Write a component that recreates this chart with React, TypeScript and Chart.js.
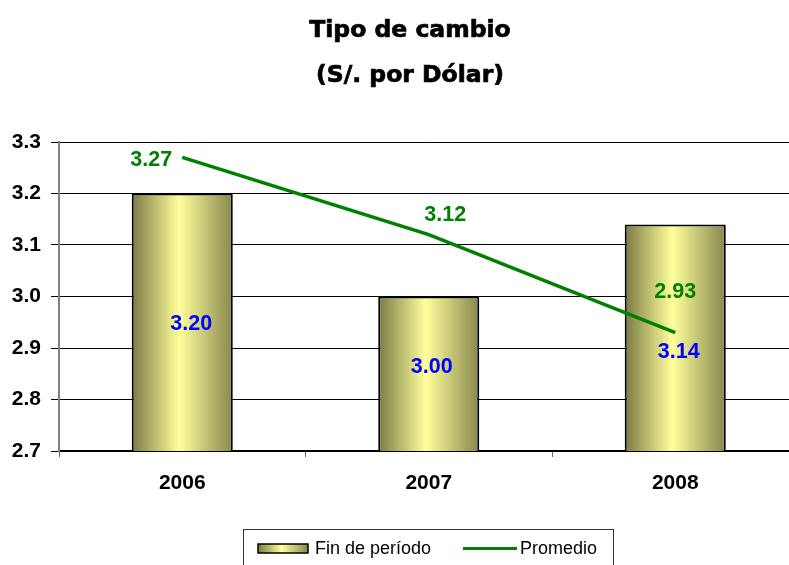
import React, { useEffect, useRef } from "react";
import { Chart, registerables } from "chart.js";

Chart.register(...registerables);

const categories = ["2006", "2007", "2008"];
const finPeriodo = [3.2, 3.0, 3.14];
const promedio = [3.27, 3.12, 2.93];
const yTicks = [2.7, 2.8, 2.9, 3.0, 3.1, 3.2, 3.3];
const titleLines = ["Tipo de cambio", "(S/. por Dólar)"];
const legendLabels = ["Fin de período", "Promedio"];

// label placement offsets (px), kept separate from data
const lineLabelOffsets = [[-31, 3], [16.5, -20], [0, -40]];
const barLabelOffsets = [[9, 2], [3, -6.5], [3.5, 14]];

const CANVAS_W = 820;
const CANVAS_H = 565;
const BAR_PCT = 0.41;

function barGradient(ctx: CanvasRenderingContext2D, x0: number, x1: number) {
  const g = ctx.createLinearGradient(x0, 0, x1, 0);
  g.addColorStop(0, "#7a7a45");
  g.addColorStop(0.47, "#ffff9c");
  g.addColorStop(1, "#87874f");
  return g;
}

const titlePlugin = {
  id: "customTitle",
  afterDraw(chart: any) {
    const ctx = chart.ctx;
    ctx.save();
    ctx.fillStyle = "#000";
    ctx.strokeStyle = "#000";
    ctx.lineWidth = 0.7;
    ctx.font = "bold 23.5px 'DejaVu Sans'";
    ctx.textAlign = "center";
    ctx.textBaseline = "middle";
    [31, 76].forEach((y, i) => {
      ctx.fillText(titleLines[i], 410, y);
      ctx.strokeText(titleLines[i], 410, y);
    });
    ctx.restore();
  },
};

const labelsPlugin = {
  id: "valueLabels",
  afterDraw(chart: any) {
    const ctx = chart.ctx;
    const xs = chart.scales.x;
    const ys = chart.scales.y;
    ctx.save();
    ctx.font = "bold 21.5px 'Liberation Sans'";
    ctx.textAlign = "center";
    ctx.textBaseline = "middle";
    finPeriodo.forEach((v, i) => {
      const cx = xs.getPixelForValue(i);
      const top = ys.getPixelForValue(v);
      const mid = (top + chart.chartArea.bottom) / 2;
      ctx.fillStyle = "#0000ff";
      ctx.fillText(v.toFixed(2), cx + barLabelOffsets[i][0], mid + barLabelOffsets[i][1]);
    });
    promedio.forEach((v, i) => {
      const px = xs.getPixelForValue(i);
      const py = ys.getPixelForValue(v);
      ctx.fillStyle = "#008000";
      ctx.fillText(v.toFixed(2), px + lineLabelOffsets[i][0], py + lineLabelOffsets[i][1]);
    });
    ctx.restore();
  },
};

const legendPlugin = {
  id: "customLegend",
  afterDraw(chart: any) {
    const ctx = chart.ctx;
    ctx.save();
    ctx.strokeStyle = "#333";
    ctx.lineWidth = 1;
    ctx.strokeRect(243.5, 529.5, 370, 40);
    ctx.fillStyle = barGradient(ctx, 258, 308);
    ctx.fillRect(258, 544, 50, 9);
    ctx.strokeStyle = "#000";
    ctx.lineWidth = 1.5;
    ctx.strokeRect(258, 544, 50, 9);
    ctx.strokeStyle = "#008000";
    ctx.lineWidth = 3;
    ctx.beginPath();
    ctx.moveTo(463, 548.5);
    ctx.lineTo(517, 548.5);
    ctx.stroke();
    ctx.fillStyle = "#000";
    ctx.font = "18px 'Liberation Sans'";
    ctx.textAlign = "left";
    ctx.textBaseline = "middle";
    ctx.fillText(legendLabels[0], 315, 549);
    ctx.fillText(legendLabels[1], 520, 549);
    ctx.restore();
  },
};

export default function App() {
  const ref = useRef<HTMLCanvasElement | null>(null);

  useEffect(() => {
    if (!ref.current) return;
    const chart = new Chart(ref.current, {
      type: "bar",
      data: {
        labels: categories,
        datasets: [
          {
            type: "bar",
            label: legendLabels[0],
            data: finPeriodo,
            order: 1,
            barPercentage: BAR_PCT,
            categoryPercentage: 1,
            borderColor: "#000",
            borderWidth: 2,
            borderSkipped: false,
            backgroundColor: (c: any) => {
              const ch = c.chart;
              const xs = ch.scales && ch.scales.x;
              if (!xs || !ch.chartArea) return "#e0e08a";
              const cx = xs.getPixelForValue(c.dataIndex);
              const half = ((xs.width / categories.length) * BAR_PCT) / 2;
              return barGradient(ch.ctx, cx - half, cx + half);
            },
          } as any,
          {
            type: "line",
            label: legendLabels[1],
            data: promedio,
            order: 0,
            borderColor: "#008000",
            borderWidth: 3.5,
            pointRadius: 0,
            tension: 0,
            fill: false,
          } as any,
        ],
      },
      options: {
        responsive: false,
        animation: false,
        devicePixelRatio: 1,
        layout: { padding: { left: 0, top: 142, right: 21.5, bottom: 0 } },
        plugins: {
          legend: { display: false },
          title: { display: false },
          tooltip: { enabled: false },
        },
        scales: {
          x: {
            offset: true,
            afterFit: (s: any) => {
              s.height = 114;
            },
            grid: {
              drawOnChartArea: false,
              offset: true,
              tickLength: 6,
              color: "#666",
              lineWidth: 1,
            },
            border: { color: "#000", width: 1.5 },
            ticks: {
              color: "#000",
              padding: 14,
              font: { family: "'Liberation Sans'", size: 21, weight: "bold" },
            },
          },
          y: {
            min: yTicks[0],
            max: yTicks[yTicks.length - 1],
            afterFit: (s: any) => {
              s.width = 59;
            },
            afterBuildTicks: (s: any) => {
              s.ticks = yTicks.map((v) => ({ value: v }));
            },
            grid: {
              color: "#000",
              lineWidth: 1,
              tickLength: 8,
            },
            border: { color: "#808080", width: 2 },
            ticks: {
              color: "#000",
              padding: 10,
              font: { family: "'Liberation Sans'", size: 21, weight: "bold" },
              callback: (v: any) => Number(v).toFixed(1),
            },
          },
        },
      },
      plugins: [titlePlugin, labelsPlugin, legendPlugin],
    } as any);
    return () => chart.destroy();
  }, []);

  return (
    <div
      style={{
        position: "absolute",
        left: 0,
        top: 0,
        width: 789,
        height: 565,
        overflow: "hidden",
        background: "#fff",
      }}
    >
      <canvas ref={ref} width={CANVAS_W} height={CANVAS_H} style={{ width: CANVAS_W, height: CANVAS_H, display: "block" }} />
    </div>
  );
}
